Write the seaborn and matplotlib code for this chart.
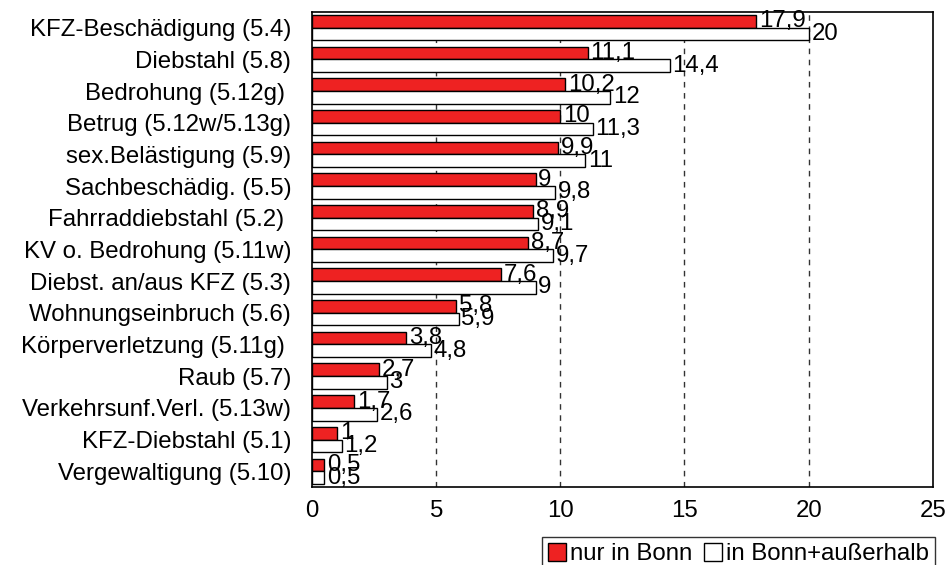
import pandas as pd
import matplotlib
matplotlib.use('Agg')
import matplotlib.pyplot as plt
import seaborn as sns

categories = [
    'KFZ-Beschädigung (5.4)',
    'Diebstahl (5.8)',
    'Bedrohung (5.12g) ',
    'Betrug (5.12w/5.13g)',
    'sex.Belästigung (5.9)',
    'Sachbeschädig. (5.5)',
    'Fahrraddiebstahl (5.2) ',
    'KV o. Bedrohung (5.11w)',
    'Diebst. an/aus KFZ (5.3)',
    'Wohnungseinbruch (5.6)',
    'Körperverletzung (5.11g) ',
    'Raub (5.7)',
    'Verkehrsunf.Verl. (5.13w)',
    'KFZ-Diebstahl (5.1)',
    'Vergewaltigung (5.10)',
]
nur_bonn = [17.9, 11.1, 10.2, 10, 9.9, 9, 8.9, 8.7, 7.6, 5.8, 3.8, 2.7, 1.7, 1, 0.5]
bonn_ausserhalb = [20, 14.4, 12, 11.3, 11, 9.8, 9.1, 9.7, 9, 5.9, 4.8, 3, 2.6, 1.2, 0.5]
series = ['nur in Bonn', 'in Bonn+außerhalb']
x_ticks = [0, 5, 10, 15, 20, 25]

df = pd.DataFrame({
    'Delikt': categories * 2,
    'Wert': nur_bonn + bonn_ausserhalb,
    'Gruppe': [series[0]] * len(categories) + [series[1]] * len(categories),
})

sns.set_style('white')
plt.rcParams['font.family'] = ['Liberation Sans', 'DejaVu Sans']
plt.rcParams['text.color'] = 'black'
plt.rcParams['xtick.color'] = 'black'
plt.rcParams['ytick.color'] = 'black'
plt.rcParams['axes.labelcolor'] = 'black'
fs = 17.3

fig = plt.figure(figsize=(9.47, 5.65), dpi=100)
ax = fig.add_axes([0.3295, 0.138, 0.6555, 0.841])

# dashed reference lines behind the bars
for x in x_ticks[1:-1]:
    ax.axvline(x, color='#333333', lw=1, ls=(0, (4, 4)), zorder=0)

sns.barplot(data=df, y='Delikt', x='Wert', hue='Gruppe', orient='h',
            hue_order=series, palette=['#ee2222', 'white'],
            edgecolor='black', linewidth=1, width=0.8, saturation=1,
            ax=ax, zorder=2)

for cont in ax.containers:
    ax.bar_label(cont, fmt=lambda v: f'{v:g}'.replace('.', ','),
                 padding=2, fontsize=fs, color='black', zorder=3)

ax.set_xlim(0, 25)
ax.set_xticks(x_ticks)
ax.set_xlabel('')
ax.set_ylabel('')
ax.tick_params(axis='x', length=0, pad=9, labelsize=fs)
ax.tick_params(axis='y', length=0, pad=15, labelsize=fs)
for s in ax.spines.values():
    s.set_visible(True)
    s.set_color('black')
    s.set_linewidth(1.2)

handles, labels = ax.get_legend_handles_labels()
ax.get_legend().remove()
leg = fig.legend(handles, labels, loc='lower right', bbox_to_anchor=(0.987, -0.011),
                 ncol=2, fontsize=fs, frameon=True, fancybox=False,
                 handlelength=0.75, handleheight=0.75, handletextpad=0.15,
                 columnspacing=0.5, borderpad=0.25, borderaxespad=0)
leg.get_frame().set_edgecolor('black')
leg.get_frame().set_linewidth(1)

fig.savefig('out.png', dpi=100)
